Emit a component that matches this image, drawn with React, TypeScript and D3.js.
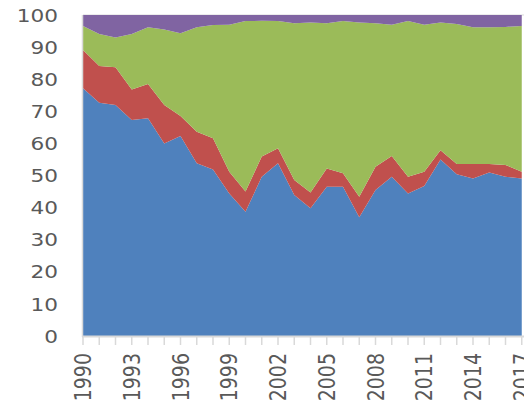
import * as d3 from "d3";
import { useEffect, useRef } from "react";

const years = d3.range(1990, 2018);
// share of each series per year (percent)
const blue = [77.2, 72.7, 72.0, 67.3, 67.8, 60.0, 62.3, 53.8, 51.9, 44.4, 38.7, 49.6, 53.8, 43.9, 39.8, 46.5, 46.5, 37.0, 45.5, 49.6, 44.4, 46.7, 55.0, 50.4, 49.1, 50.9, 49.6, 49.1];
const red = [11.9, 11.4, 11.7, 9.5, 10.7, 12.0, 6.2, 9.8, 9.7, 6.8, 6.3, 6.3, 4.7, 4.7, 4.9, 5.7, 4.2, 6.4, 7.2, 6.5, 5.2, 4.5, 2.9, 3.2, 4.5, 2.7, 3.7, 2.1];
const green = [7.5, 10.0, 9.3, 17.3, 17.7, 23.5, 25.8, 32.6, 35.3, 45.8, 53.1, 42.3, 39.6, 48.8, 53.0, 45.2, 47.4, 54.3, 44.7, 40.9, 48.5, 45.8, 39.8, 43.6, 42.6, 42.6, 43.0, 45.4];
const purple = [3.4, 5.9, 7.0, 5.9, 3.8, 4.5, 5.7, 3.8, 3.1, 3.0, 1.9, 1.8, 1.9, 2.6, 2.3, 2.6, 1.9, 2.3, 2.6, 3.0, 1.9, 3.0, 2.3, 2.8, 3.8, 3.8, 3.7, 3.4];
const yTicks = d3.range(0, 101, 10);
const xTickLabels = years.filter((y) => (y - 1990) % 3 === 0);

const keys = ["blue", "red", "green", "purple"];
const colors = ["#4F81BD", "#C0504D", "#9BBB59", "#8064A2"];

export default function App() {
  const ref = useRef<SVGSVGElement>(null);

  useEffect(() => {
    if (!ref.current) return;
    const svg = d3.select(ref.current);
    svg.selectAll("*").remove();

    const rows = years.map((yr, i) => ({
      year: yr,
      blue: blue[i],
      red: red[i],
      green: green[i],
      purple: purple[i],
    }));

    const x = d3.scaleLinear().domain([1990, 2017]).range([83, 521.75]);
    const y = d3.scaleLinear().domain([0, 100]).range([336, 15]);

    const stack = d3.stack<any>().keys(keys);
    const series = stack(rows);

    const area = d3
      .area<any>()
      .x((d) => x(d.data.year))
      .y0((d) => y(d[0]))
      .y1((d) => y(d[1]));

    // grid line at 100
    svg
      .append("line")
      .attr("x1", 83)
      .attr("x2", 524)
      .attr("y1", y(100))
      .attr("y2", y(100))
      .attr("stroke", "#d9d9d9")
      .attr("stroke-width", 1);

    svg
      .append("g")
      .selectAll("path")
      .data(series)
      .enter()
      .append("path")
      .attr("d", area)
      .attr("fill", (_, i) => colors[i]);

    const grey = "#d9d9d9";
    // y axis line
    svg
      .append("line")
      .attr("x1", 82.5)
      .attr("x2", 82.5)
      .attr("y1", y(100))
      .attr("y2", 337)
      .attr("stroke", grey)
      .attr("stroke-width", 1.5);

    // x axis line + ticks
    svg
      .append("line")
      .attr("x1", 82)
      .attr("x2", 524)
      .attr("y1", 336.5)
      .attr("y2", 336.5)
      .attr("stroke", grey)
      .attr("stroke-width", 2);

    svg
      .append("g")
      .selectAll("line")
      .data(years)
      .enter()
      .append("line")
      .attr("x1", (d) => x(d))
      .attr("x2", (d) => x(d))
      .attr("y1", 336)
      .attr("y2", 345)
      .attr("stroke", grey)
      .attr("stroke-width", 1.5);

    const font = "DejaVu Sans, sans-serif";
    const labelColor = "#595959";

    // y labels
    svg
      .append("g")
      .selectAll("g")
      .data(yTicks)
      .enter()
      .append("g")
      .attr("transform", (d) => `translate(58,${y(d)}) scale(1.17,1)`)
      .append("text")
      .attr("text-anchor", "end")
      .attr("dy", "0.36em")
      .attr("font-family", font)
      .attr("font-size", 18.5)
      .attr("fill", labelColor)
      .text((d) => String(d));

    // x labels (rotated)
    svg
      .append("g")
      .selectAll("g")
      .data(xTickLabels)
      .enter()
      .append("g")
      .attr("transform", (d) => `translate(${x(d)},353) scale(1.17,1) rotate(-90)`)
      .append("text")
      .attr("text-anchor", "end")
      .attr("dy", "0.36em")
      .attr("font-family", font)
      .attr("font-size", 19)
      .attr("fill", labelColor)
      .text((d) => String(d));
  }, []);

  return (
    <svg
      ref={ref}
      width={524}
      height={407}
      style={{ position: "absolute", left: 0, top: 0, background: "#fff" }}
    ></svg>
  );
}
